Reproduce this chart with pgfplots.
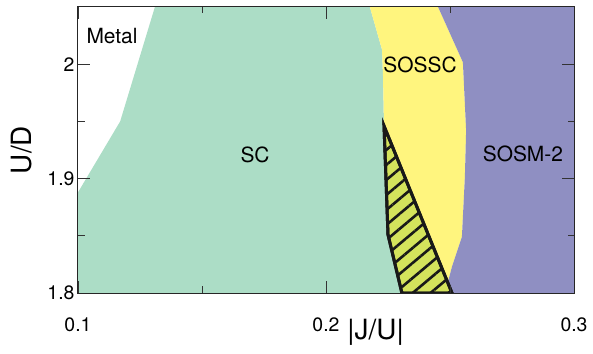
\documentclass[border=0pt]{standalone}
\usepackage{fontspec}
\setmainfont{TeX Gyre Heros}
\usepackage{pgfplots}
\pgfplotsset{compat=1.18}
\usetikzlibrary{patterns.meta}
\definecolor{scgreen}{RGB}{172,221,198}
\definecolor{sossc}{RGB}{255,245,126}
\definecolor{sosm}{RGB}{143,143,194}
\definecolor{hatchfill}{RGB}{212,227,92}
\begin{document}
\begin{tikzpicture}
\begin{axis}[
 scale only axis, width=496bp, height=286bp,
 xmin=0.1, xmax=0.3, ymin=1.8, ymax=2.05,
 xtick={0.1,0.2,0.3}, minor xtick={0.15,0.25},
 ytick={1.8,1.9,2.0}, minor ytick={1.85,1.95},
 xticklabels={0.1,0.2,0.3}, yticklabels={1.8,1.9,2},
 tick align=inside, major tick length=12bp, minor tick length=6.5bp,
 tick style={black!80, line width=0.8bp},
 axis line style={black!85, line width=1bp},
 ticklabel style={font=\fontsize{19.5}{22}\selectfont},
 xticklabel style={yshift=-21bp},
 xlabel={|J/U|}, ylabel={U/D},
 label style={font=\fontsize{28}{32}\selectfont},
 xlabel style={at={(axis description cs:0.6,-0.137)}, anchor=center},
 ylabel style={at={(axis description cs:-0.113,0.5)}, anchor=center},
 axis on top,
]
\addplot[draw=none, fill=scgreen] coordinates {
 (0.1,1.8) (0.1,1.888) (0.117,1.95) (0.131,2.05) (0.2177,2.05) (0.2226,2.0126)
 (0.2230,1.9886) (0.2234,1.945) (0.225,1.851) (0.2306,1.8)} -- cycle;
\addplot[draw=none, fill=sossc] coordinates {
 (0.2177,2.05) (0.2452,2.05) (0.2552,2.0017) (0.2565,1.942) (0.2560,1.9014)
 (0.2548,1.849) (0.2508,1.823) (0.248,1.8) (0.2306,1.8) (0.225,1.851)
 (0.2234,1.945) (0.2230,1.9886) (0.2226,2.0126)} -- cycle;
\addplot[draw=none, fill=sosm] coordinates {
 (0.2452,2.05) (0.3,2.05) (0.3,1.8) (0.248,1.8) (0.2508,1.823) (0.2548,1.849)
 (0.2560,1.9014) (0.2565,1.942) (0.2552,2.0017)} -- cycle;
\addplot[draw=black!90, line width=3bp, line join=miter, fill=hatchfill,
 postaction={pattern={Lines[angle=40,distance=11.5bp,line width=2.6bp]}, pattern color=black!90}]
 coordinates {(0.2234,1.946) (0.225,1.851) (0.2306,1.8) (0.2508,1.8)} -- cycle;
\node[font=\fontsize{21}{24}\selectfont] at (axis cs:0.1137,2.0243) {Metal};
\node[font=\fontsize{21}{24}\selectfont] at (axis cs:0.1714,1.9206) {SC};
\node[font=\fontsize{21}{24}\selectfont] at (axis cs:0.2379,1.999) {SOSSC};
\node[font=\fontsize{21}{24}\selectfont] at (axis cs:0.2794,1.9216) {SOSM-2};
\end{axis}
\pgfresetboundingbox
\path (current axis.south west) ++(-78bp,-61bp) rectangle ++(593bp,354bp);
\end{tikzpicture}
\end{document}
